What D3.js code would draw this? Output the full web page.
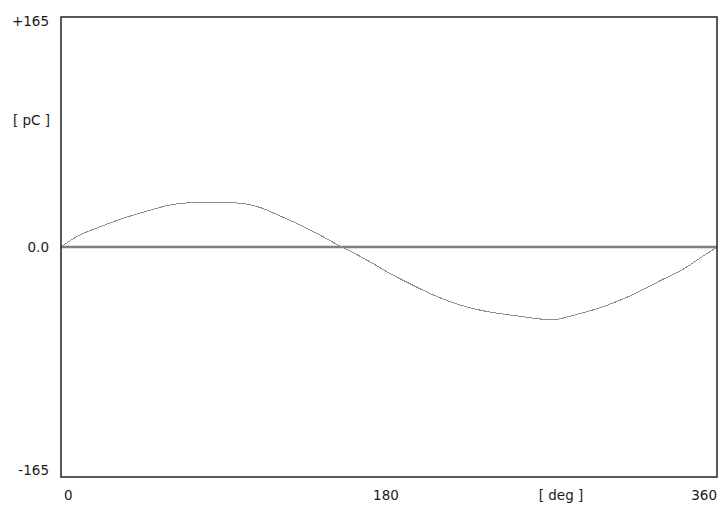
<!DOCTYPE html>
<html>
<head>
<meta charset="utf-8">
<script src="https://cdn.jsdelivr.net/npm/d3@7"></script>
<style>
  body { margin: 0; background: #fff; }
  text { font-family: "DejaVu Sans", sans-serif; font-size: 13.5px; fill: #1a1a1a; }
</style>
</head>
<body>
<div id="chart"></div>
<script>
// Angle samples (deg) and charge values (pC)
const angles = [0, 10, 20, 30, 40, 50, 60, 70, 80, 90, 100, 110, 120,
  130, 140, 150, 160, 170, 180, 190, 200, 210, 220, 230, 240, 250,
  260, 270, 280, 290, 300, 310, 320, 330, 340, 350, 360];
const charge = [0, 8.4, 13.8, 18.7, 23, 26.8, 30.2, 31.7, 31.9, 31.9, 31.2, 28, 22.4,
  16.5, 10, 2.9, -3.8, -11, -18.6, -25.4, -31.8, -37.5, -42, -45.3, -47.6, -49.4,
  -51.2, -52.3, -49.4, -45.9, -41.6, -36.4, -30.1, -23.4, -17, -8.6, 0];

const xTicks = [0, 180, 360];
const yTicks = ["+165", "0.0", "-165"];
const yTickValues = [165, 0, -165];

const W = 722, H = 506;
const margin = { top: 17, right: 5, bottom: 29, left: 61 };

const svg = d3.select("#chart")
  .append("svg")
  .attr("width", W)
  .attr("height", H);

const x = d3.scaleLinear()
  .domain([0, 360])
  .range([margin.left, W - margin.right]);

const y = d3.scaleLinear()
  .domain([-165, 165])
  .range([H - margin.bottom, margin.top]);

// Zero line
svg.append("line")
  .attr("x1", x(0))
  .attr("x2", x(360))
  .attr("y1", y(0))
  .attr("y2", y(0))
  .attr("stroke", "#7f7f7f")
  .attr("stroke-width", 2.5);

// Curve
const data = angles.map((a, i) => ({ a, v: charge[i] }));
const line = d3.line()
  .x(d => x(d.a))
  .y(d => y(d.v))
  .curve(d3.curveMonotoneX);

svg.append("path")
  .datum(data)
  .attr("d", line)
  .attr("fill", "none")
  .attr("stroke", "#8e8e8e")
  .attr("stroke-width", 1)
  .attr("shape-rendering", "crispEdges");

// Frame
svg.append("rect")
  .attr("x", x(0))
  .attr("y", y(165))
  .attr("width", x(360) - x(0))
  .attr("height", y(-165) - y(165))
  .attr("fill", "none")
  .attr("stroke", "#222")
  .attr("stroke-width", 1.5);

// Y labels
svg.selectAll(".ylab")
  .data(yTicks)
  .enter()
  .append("text")
  .attr("class", "ylab")
  .attr("text-anchor", "end")
  .attr("x", 49)
  .attr("y", (d, i) => y(yTickValues[i]) + (i === 0 ? 9 : i === 2 ? -2 : 5))
  .text(d => d);

svg.append("text")
  .attr("text-anchor", "end")
  .attr("x", 50)
  .attr("y", 125)
  .text("[ pC ]");

// X labels
svg.selectAll(".xlab")
  .data(xTicks)
  .enter()
  .append("text")
  .attr("class", "xlab")
  .attr("text-anchor", (d, i) => i === 0 ? "start" : i === 2 ? "end" : "middle")
  .attr("x", (d, i) => i === 0 ? x(d) + 3 : i === 1 ? x(d) - 3 : x(d))
  .attr("y", 500)
  .text(d => d);

svg.append("text")
  .attr("text-anchor", "middle")
  .attr("x", 561)
  .attr("y", 500)
  .text("[ deg ]");
</script>
</body>
</html>
